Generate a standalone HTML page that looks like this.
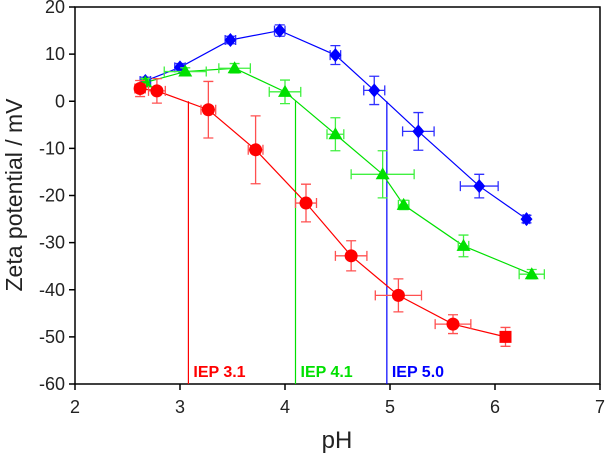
<!DOCTYPE html>
<html><head><meta charset="utf-8"><style>
body{margin:0;background:#fff;}
svg text{font-family:"Liberation Sans",Arial,sans-serif;}
</style></head><body>
<svg id="chart" width="605" height="458" xmlns="http://www.w3.org/2000/svg">
<g id="plot"></g>
</svg>
<script>
const xTicks=[2,3,4,5,6,7];
const yTicks=[20,10,0,-10,-20,-30,-40,-50,-60];
const redX=[2.62,2.78,3.27,3.72,4.2,4.63,5.08,5.6,6.1];
const redY=[2.7,2.2,-1.8,-10.3,-21.6,-32.8,-41.2,-47.3,-50];
const redXErr=[0.05,0.08,0.07,0.07,0.1,0.15,0.22,0.17,0.04];
const redYErr=[1.7,2.6,6,7.2,4,3.2,3.5,2,2];
const greenX=[2.67,3.05,3.52,4.0,4.48,4.93,5.13,5.7,6.35];
const greenY=[4.0,6.3,7.0,2.0,-7,-15.5,-22,-30.7,-36.7];
const greenXErr=[0.03,0.2,0.15,0.15,0.08,0.3,0.05,0.05,0.12];
const greenYErr=[0.8,0.8,1,2.5,3.5,5,1,2.3,1];
const blueX=[2.67,3.0,3.48,3.95,4.48,4.85,5.27,5.85,6.3];
const blueY=[4.3,7.2,13,15,9.8,2.3,-6.4,-18,-25];
const blueXErr=[0.05,0.05,0.05,0.05,0.05,0.1,0.15,0.18,0.03];
const blueYErr=[0.8,0.8,0.8,1.2,2,3,4,2.5,0.8];
const iepVals=[3.08,4.1,4.97];
const iepLabels=["IEP 3.1","IEP 4.1","IEP 5.0"];

const L=75,R=600,T=7,B=384;
const sx=v=>L+(v-2)*(R-L)/5;
const sy=v=>T+(20-v)*(B-T)/80;
const NS="http://www.w3.org/2000/svg";
const g=document.getElementById('plot');
function mk(tag,attrs,parent){const e=document.createElementNS(NS,tag);for(const k in attrs)e.setAttribute(k,attrs[k]);(parent||g).appendChild(e);return e;}

const frame=mk('rect',{x:L,y:T,width:R-L,height:B-T,fill:'none',stroke:'#000','stroke-width':1.5});


xTicks.forEach(t=>{
 const l=mk('line',{x1:sx(t),x2:sx(t),y1:B,y2:B+6,stroke:'#000','stroke-width':1.5});
 
 
 const tx=mk('text',{x:sx(t),y:B+29,'text-anchor':'middle','font-size':18,fill:'#222'});tx.textContent=t;
 
 
});
yTicks.forEach(t=>{
 const l=mk('line',{x1:L-6,x2:L,y1:sy(t),y2:sy(t),stroke:'#000','stroke-width':1.5});
 
 
 const tx=mk('text',{x:L-10,y:sy(t)+6,'text-anchor':'end','font-size':18,fill:'#222'});tx.textContent=t;
 
 
});
const xt=mk('text',{x:337,y:448,'text-anchor':'middle','font-size':24,fill:'#222'});xt.textContent='pH';


const yt=mk('text',{x:0,y:0,'text-anchor':'middle','font-size':23,fill:'#222',transform:'translate(22,195) rotate(-90)'});yt.textContent='Zeta potential / mV';



const cols=['#ff0000','#00e000','#0000ff'];
const errCols=['#ff5050','#40f040','#3030ff'];
iepVals.forEach((v,i)=>{
 const l=mk('line',{x1:sx(v),x2:sx(v),y1:sy(0),y2:B,stroke:cols[i],'stroke-width':1.2});
 
 
 const tx=mk('text',{x:sx(v)+5,y:377,'font-size':16,'font-weight':'bold',fill:cols[i]});tx.textContent=iepLabels[i];
 
 
});

function series(X,Y,XE,YE,ci,shape,name){
 const pts=X.map((x,i)=>sx(x)+','+sy(Y[i])).join(' ');
 const pl=mk('polyline',{points:pts,fill:'none',stroke:cols[ci],'stroke-width':1.2});
 
 
 X.forEach((x,i)=>{
  const cx=sx(x),cy=sy(Y[i]),x1=sx(x-XE[i]),x2=sx(x+XE[i]),y1=sy(Y[i]+YE[i]),y2=sy(Y[i]-YE[i]);
  const d=`M${x1},${cy}H${x2}M${x1},${cy-5}V${cy+5}M${x2},${cy-5}V${cy+5}M${cx},${y1}V${y2}M${cx-5},${y1}H${cx+5}M${cx-5},${y2}H${cx+5}`;
  const e=mk('path',{d:d,stroke:errCols[ci],'stroke-width':1.3,fill:'none'});
  
  
  let m;
  if(shape==='circle'){m=(i===X.length-1)?mk('rect',{x:cx-6,y:cy-6,width:12,height:12,fill:cols[ci]}):mk('circle',{cx:cx,cy:cy,r:6.5,fill:cols[ci]});}
  else if(shape==='tri'){m=mk('polygon',{points:`${cx},${cy-7} ${cx-7},${cy+5} ${cx+7},${cy+5}`,fill:cols[ci]});}
  else {m=mk('polygon',{points:`${cx},${cy-7} ${cx+6},${cy} ${cx},${cy+7} ${cx-6},${cy}`,fill:cols[ci]});
   mk('circle',{cx:cx,cy:cy,r:4.5,fill:cols[ci]});}
  
  
 });
}
series(blueX,blueY,blueXErr,blueYErr,2,'diamond','blue-series');
series(greenX,greenY,greenXErr,greenYErr,1,'tri','green-series');
series(redX,redY,redXErr,redYErr,0,'circle','red-series');
</script>
</body></html>
